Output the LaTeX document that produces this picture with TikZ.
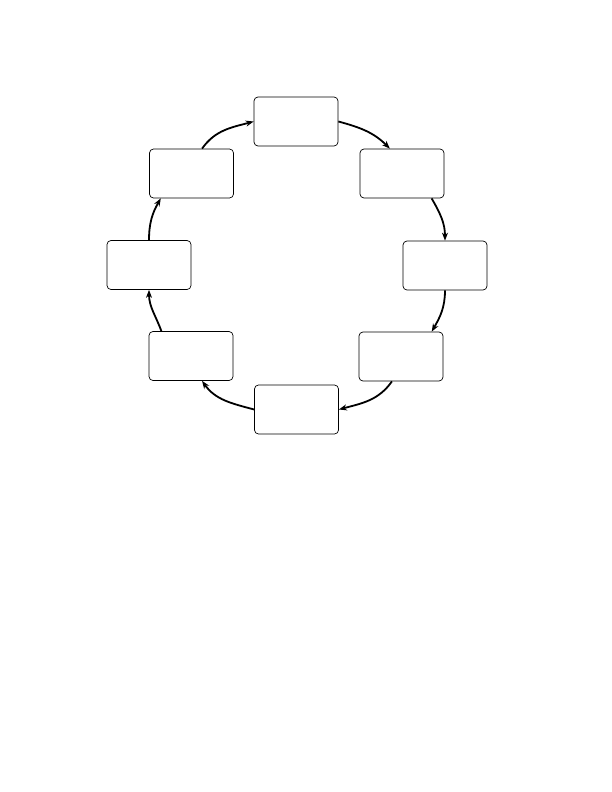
\documentclass[tikz,border=0pt]{standalone}
\usepackage{tikz}
\usepackage{xcolor}
\usetikzlibrary{arrows.meta, positioning, calc}

\begin{document}
\begin{tikzpicture}[x=1pt, y=1pt,
    stagebox/.style={draw=black, line width=0.7pt, rectangle, rounded corners=4pt,
        minimum width=84pt, minimum height=49pt, inner sep=0pt, fill=white},
    flow/.style={-{Stealth[length=8pt, width=6pt]}, line width=1.8pt, draw=black}]
    % =========================================================
    % PAGE FRAME
    % =========================================================
    \useasboundingbox (0,0) rectangle (612,-792);

    % =========================================================
    % EIGHT STAGES ON THE RING
    % =========================================================
    \node[stagebox] (top)  at (296,-121.5) {};
    \node[stagebox] (tr)   at (402,-173.5) {};
    \node[stagebox] (rgt)  at (445,-265.5) {};
    \node[stagebox] (br)   at (401,-356.5) {};
    \node[stagebox] (bot)  at (296.5,-409.5) {};
    \node[stagebox] (bl)   at (191,-356) {};
    \node[stagebox] (lft)  at (149,-265) {};
    \node[stagebox] (tl)   at (191.5,-173.5) {};

    % =========================================================
    % CLOCKWISE CYCLE CONNECTORS
    % =========================================================
    \draw[flow] (top.east) to[out=-15, in=135] (tr.116);
    \draw[flow] (tr.-40) to[out=-60, in=90] (rgt.north);
    \draw[flow] (rgt.south) to[out=-90, in=60] (br.39);
    \draw[flow] (br.-110) to[out=-125, in=15] (bot.east);
    \draw[flow] (bot.west) to[out=165, in=-55] (bl.-66);
    \draw[flow] (bl.140) to[out=110, in=-90] (lft.south);
    \draw[flow] (lft.north) to[out=90, in=-120] (tl.-141);
    \draw[flow] (tl.67) to[out=55, in=195] (top.west);
\end{tikzpicture}
\end{document}
